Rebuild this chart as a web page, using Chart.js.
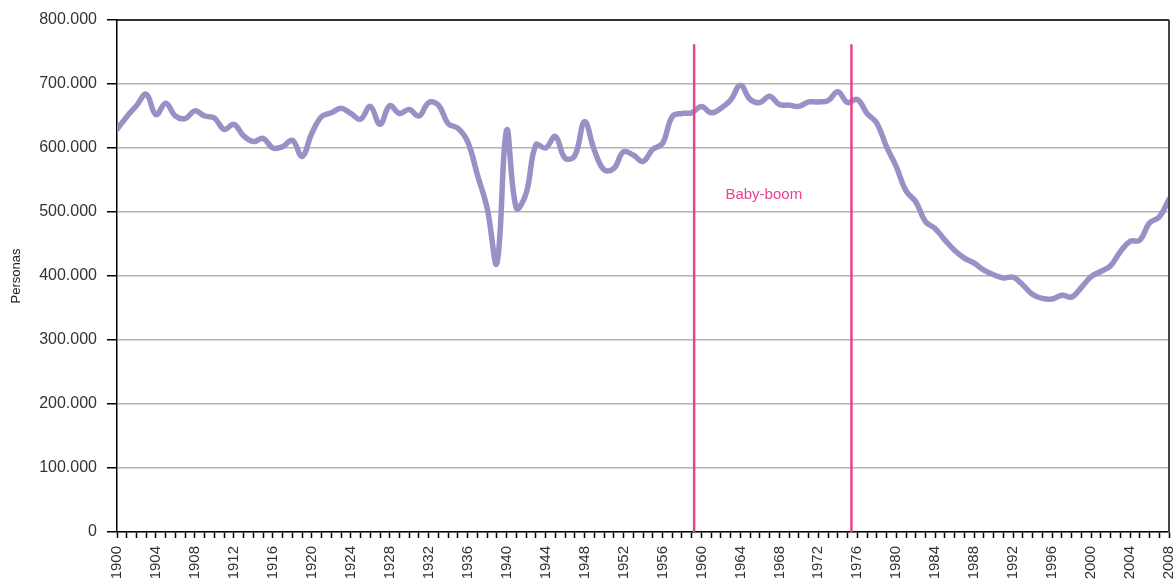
<!DOCTYPE html>
<html>
<head>
<meta charset="utf-8">
<script src="https://cdn.jsdelivr.net/npm/chart.js@4.4.1/dist/chart.umd.min.js"></script>
<style>
  html, body { margin: 0; padding: 0; background: #fff; }
  #births { display: block; }
</style>
</head>
<body>
<canvas id="births" width="1176" height="581"></canvas>
<script>
// Nacimientos en España, 1900-2008 (miles de personas)
var firstYear = 1900;
var lastYear = 2008;
var years = [];
for (var yr = firstYear; yr <= lastYear; yr++) years.push(yr);

var births = [
  629, 649, 666, 684, 652, 670, 650, 646, 658, 650,   // 1900-1909
  647, 629, 637, 619, 610, 615, 600, 602, 612, 587,   // 1910-1919
  623, 649, 655, 662, 654, 645, 665, 637, 666, 654,   // 1920-1929
  660, 650, 671, 667, 638, 631, 610, 558, 506, 420,   // 1930-1939
  628, 506, 529, 605, 600, 618, 584, 588, 641, 597,   // 1940-1949
  566, 568, 594, 589, 579, 598, 607, 649, 654, 655,   // 1950-1959
  665, 655, 662, 675, 698, 676, 671, 681, 668, 667,   // 1960-1969
  665, 672, 672, 674, 688, 671, 676, 654, 639, 602,   // 1970-1979
  571, 533, 516, 485, 474, 456, 440, 428, 420, 409,   // 1980-1989
  402, 397, 398, 386, 371, 365, 364, 370, 367, 382,   // 1990-1999
  399, 407, 416, 438, 454, 456, 483, 492, 520         // 2000-2008
];

var yTicks = [0, 100, 200, 300, 400, 500, 600, 700, 800];

// periodo del baby-boom
var babyBoom = [1959.25, 1975.4];
var babyBoomTop = 762;
var babyBoomLabel = { text: 'Baby-boom', x: 1966.4, y: 527 };

var lavender = '#9a90c5';
var pink = '#e8438d';
var fontFam = "'Liberation Sans', Arial, sans-serif";

var frame = {
  id: 'frame',
  afterDraw: function (chart) {
    var c = chart.ctx, a = chart.chartArea;
    c.save();
    c.strokeStyle = '#000';
    c.lineWidth = 1.5;
    c.beginPath();
    c.moveTo(a.left, a.top);
    c.lineTo(a.right, a.top);
    c.stroke();
    c.strokeStyle = '#444';
    c.lineWidth = 2;
    c.beginPath();
    c.moveTo(a.right, a.top);
    c.lineTo(a.right, a.bottom);
    c.stroke();
    // etiqueta del periodo
    var px = chart.scales.x.getPixelForValue(babyBoomLabel.x);
    var py = chart.scales.y.getPixelForValue(babyBoomLabel.y);
    c.fillStyle = pink;
    c.font = '15px ' + fontFam;
    c.textAlign = 'center';
    c.textBaseline = 'middle';
    c.fillText(babyBoomLabel.text, px, py);
    c.restore();
  }
};

var ctx = document.getElementById('births').getContext('2d');
var chart = new Chart(ctx, {
  type: 'line',
  data: {
    datasets: [
      {
        label: 'inicio',
        data: [{ x: babyBoom[0], y: 0 }, { x: babyBoom[0], y: babyBoomTop }],
        borderColor: pink,
        borderWidth: 2.5,
        pointRadius: 0,
        tension: 0
      },
      {
        label: 'fin',
        data: [{ x: babyBoom[1], y: 0 }, { x: babyBoom[1], y: babyBoomTop }],
        borderColor: pink,
        borderWidth: 2.5,
        pointRadius: 0,
        tension: 0
      },
      {
        label: 'Nacimientos',
        data: years.map(function (y, i) { return { x: y, y: births[i] }; }),
        borderColor: lavender,
        borderWidth: 5.5,
        pointRadius: 0,
        tension: 0.4,
        borderCapStyle: 'round',
        borderJoinStyle: 'round'
      }
    ]
  },
  options: {
    responsive: false,
    animation: false,
    layout: { padding: { top: 20, right: 7, bottom: 0, left: 0 } },
    plugins: {
      legend: { display: false },
      tooltip: { enabled: false }
    },
    scales: {
      x: {
        type: 'linear',
        min: firstYear,
        max: lastYear,
        afterFit: function (s) { s.height = 49; s.paddingLeft = 0; s.paddingRight = 0; },
        ticks: {
          stepSize: 1,
          autoSkip: false,
          minRotation: 90,
          maxRotation: 90,
          padding: 8,
          color: '#333',
          font: { family: fontFam, size: 15 },
          callback: function (v) { return v % 4 === 0 ? String(v) : ''; }
        },
        grid: { drawOnChartArea: false, tickLength: 6, tickColor: '#000', tickWidth: 1.5 },
        border: { color: '#000', width: 1.5 }
      },
      y: {
        min: 0,
        max: 800,
        afterFit: function (s) { s.width = 117; s.paddingTop = 0; s.paddingBottom = 0; },
        afterBuildTicks: function (s) { s.ticks = yTicks.map(function (v) { return { value: v }; }); },
        ticks: {
          padding: 10,
          color: '#333',
          font: { family: fontFam, size: 16 },
          callback: function (v) { return v === 0 ? '0' : v + '.000'; }
        },
        grid: { color: '#b3b3b3', lineWidth: 1.5, tickLength: 10, tickColor: '#000', tickWidth: 1.5 },
        border: { color: '#000', width: 1.5 },
        title: {
          display: true,
          text: 'Personas',
          color: '#222',
          font: { family: fontFam, size: 13 },
          padding: { top: 9, bottom: 0 }
        }
      }
    }
  },
  plugins: [frame]
});
</script>
</body>
</html>
